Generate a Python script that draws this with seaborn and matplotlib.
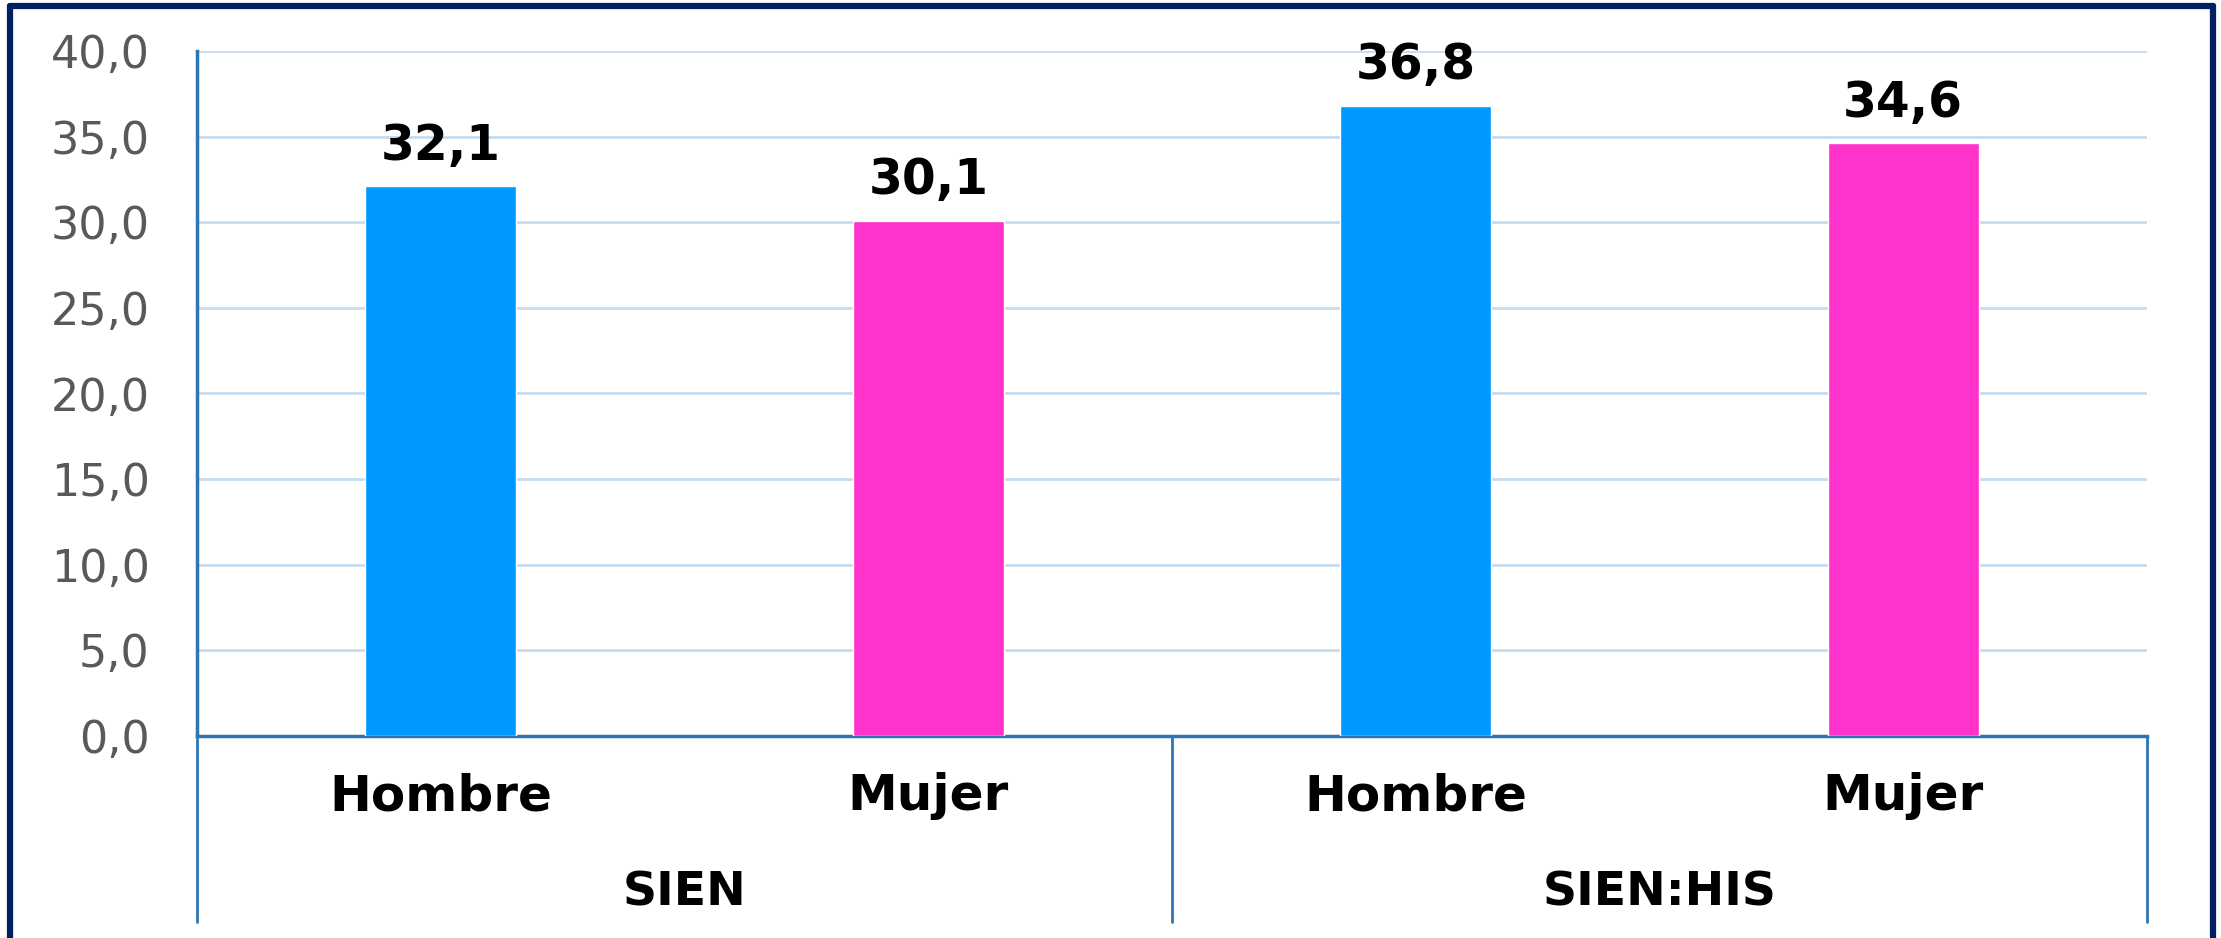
import matplotlib
matplotlib.use("Agg")
import matplotlib.pyplot as plt
import matplotlib.transforms as mtransforms
from matplotlib.lines import Line2D
import pandas as pd
import seaborn as sns

groups = ["SIEN", "SIEN", "SIEN:HIS", "SIEN:HIS"]
sexes = ["Hombre", "Mujer", "Hombre", "Mujer"]
values = [32.1, 30.1, 36.8, 34.6]
bar_colors = ["#0099FF", "#FF33CC", "#0099FF", "#FF33CC"]
y_ticks = [0, 5, 10, 15, 20, 25, 30, 35, 40]

W, H, DPI = 2221, 938, 100
SPINE = "#2E75B6"
GRID = "#C5DCF0"
NAVY = "#002060"


def fmt(v: float) -> str:
    return f"{v:.1f}".replace(".", ",")


def main() -> None:
    df = pd.DataFrame({"grupo": groups, "sexo": sexes, "valor": values})
    df["key"] = df["grupo"] + " " + df["sexo"]

    sns.set_theme(style="white")
    plt.rcParams["font.family"] = ["DejaVu Sans"]

    fig = plt.figure(figsize=(W / DPI, H / DPI), dpi=DPI)
    ax = fig.add_axes([197 / W, 1 - 736 / H, (2147 - 197) / W, (736 - 51) / H])

    sns.barplot(data=df, x="key", y="valor", hue="key", palette=bar_colors,
                width=0.31, legend=False, saturation=1, ax=ax, zorder=3)

    ax.set_ylim(0, 40)
    ax.set_xlim(-0.5, len(df) - 0.5)
    ax.set_yticks(y_ticks)
    ax.set_yticklabels([fmt(t) for t in y_ticks], color="#595959", fontsize=32)
    ax.yaxis.grid(True, color=GRID, linewidth=2, zorder=0)
    ax.set_axisbelow(True)
    ax.tick_params(axis="y", length=0, pad=34)
    ax.set_xticks(range(len(df)))
    ax.set_xticklabels(sexes, fontsize=36, fontweight="bold", color="black")
    ax.tick_params(axis="x", length=0, pad=26)
    ax.set_xlabel("")
    ax.set_ylabel("")

    for side in ["top", "right"]:
        ax.spines[side].set_visible(False)
    ax.spines["left"].set_color(SPINE)
    ax.spines["left"].set_linewidth(2.5)
    ax.spines["bottom"].set_color(SPINE)
    ax.spines["bottom"].set_linewidth(2.5)

    for i, v in enumerate(values):
        ax.annotate(fmt(v), (i, v), xytext=(0, 12), textcoords="offset points",
                    ha="center", va="bottom", fontsize=35, fontweight="bold", color="black")

    # group separators below the axis and group labels
    trans = mtransforms.blended_transform_factory(ax.transData, ax.transAxes)
    for xs in [-0.5, 1.5, 3.5]:
        ax.add_line(Line2D([xs, xs], [0, -186 / 685], transform=trans, color=SPINE,
                           linewidth=2, clip_on=False))
    for gi, g in enumerate(["SIEN", "SIEN:HIS"]):
        ax.text(gi * 2 + 0.5, -(893 - 736) / 685, g, transform=trans, ha="center", va="center",
                fontsize=34, fontweight="bold", color="black")

    # outer frame
    for xs, ys in [([10 / W, 10 / W], [0, 1 - 6 / H]),
                   ([10 / W, 2213 / W], [1 - 6 / H, 1 - 6 / H]),
                   ([2213 / W, 2213 / W], [1 - 6 / H, 0])]:
        fig.add_artist(Line2D(xs, ys, color=NAVY, linewidth=4.5, transform=fig.transFigure))

    fig.savefig("out.png", dpi=DPI, facecolor="white")
    plt.close(fig)


if __name__ == "__main__":
    main()
